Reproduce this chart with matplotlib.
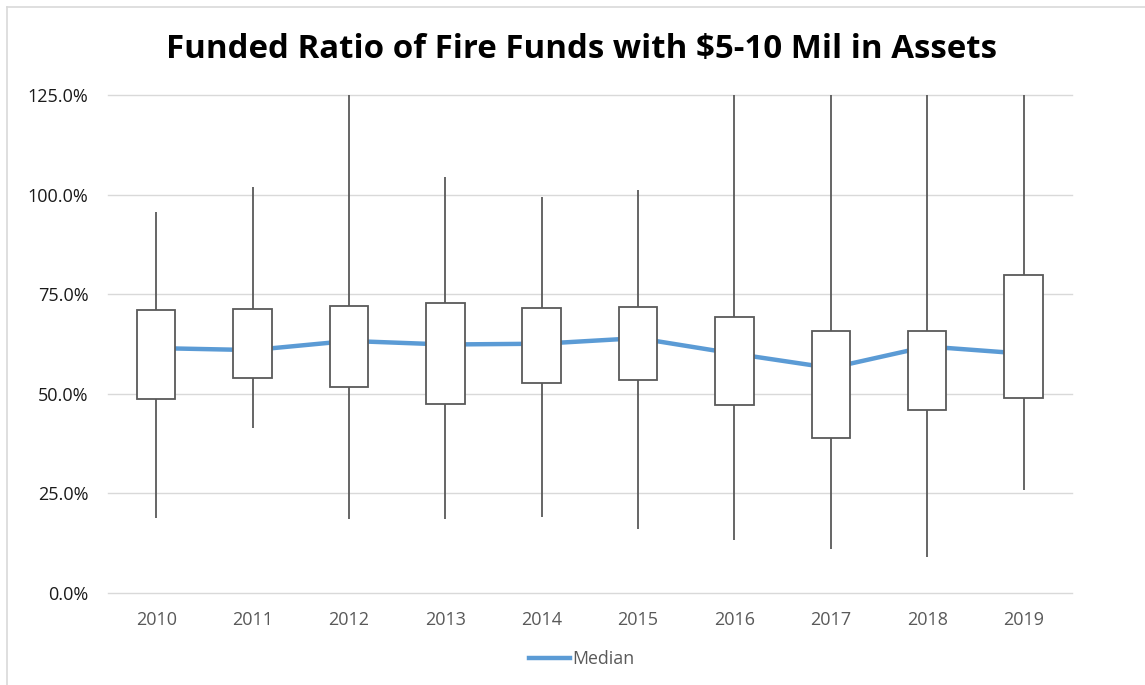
import numpy as np
import matplotlib.pyplot as plt
from matplotlib.lines import Line2D

years = ['2010', '2011', '2012', '2013', '2014', '2015', '2016', '2017', '2018', '2019']
# funded ratio in percent; whisker tops above 125 run off the top of the plot
whisker_hi = [95.6, 101.9, 140.0, 104.4, 99.4, 101.2, 140.0, 140.0, 140.0, 140.0]
box_hi = [71.0, 71.3, 72.0, 72.8, 71.5, 71.8, 69.2, 65.9, 65.9, 79.9]
median = [61.5, 61.0, 63.3, 62.4, 62.6, 64.0, 60.1, 56.5, 61.9, 60.1]
box_lo = [48.7, 54.0, 51.7, 47.4, 52.7, 53.5, 47.1, 39.0, 45.9, 48.9]
whisker_lo = [18.8, 41.4, 18.6, 18.6, 19.1, 16.1, 13.3, 11.0, 9.0, 25.9]

plt.rcParams['font.family'] = ['Open Sans', 'DejaVu Sans']

fig = plt.figure(figsize=(11.45, 6.85), dpi=100)
ax = fig.add_axes([0.0943, 0.1343, 0.8417, 0.7267])

x = np.arange(len(years))
edge = '#595959'

# whiskers behind, median line, then boxes on top
ax.vlines(x, whisker_lo, whisker_hi, color=edge, lw=1.3, zorder=2)
ax.plot(x, median, color='#5B9BD5', lw=3.2, zorder=3, solid_capstyle='butt')
ax.bar(x, np.array(box_hi) - np.array(box_lo), bottom=box_lo, width=0.4,
       facecolor='white', edgecolor=edge, linewidth=1.3, zorder=4)

ax.set_xlim(-0.5, 9.5)
ax.set_ylim(0, 125)
ax.set_yticks(np.arange(0, 126, 25))
ax.set_yticklabels([f'{v:.1f}%' for v in np.arange(0, 126, 25)])
ax.set_xticks(x)
ax.set_xticklabels(years)
ax.grid(axis='y', color='#d9d9d9', lw=1.0, zorder=0)
for gl in ax.get_ygridlines():
    gl.set_clip_on(False)
ax.set_axisbelow(True)
for s in ax.spines.values():
    s.set_visible(False)
ax.tick_params(axis='both', length=0, labelsize=13)
ax.tick_params(axis='y', pad=14, labelcolor='#1a1a1a')
ax.tick_params(axis='x', pad=13, labelcolor='#595959')

fig.text(0.508, 0.928, 'Funded Ratio of Fire Funds with $5-10 Mil in Assets',
         ha='center', va='center', fontsize=23.8, fontweight='bold')

handle = Line2D([], [], color='#5B9BD5', lw=3.2)
fig.legend([handle], ['Median'], loc='center', bbox_to_anchor=(0.508, 0.038),
           frameon=False, fontsize=12.8, handlelength=2.3, handletextpad=0.1,
           labelcolor='#595959')

# thin chart-area border
fig.add_artist(Line2D([7 / 1145, 1], [1 - 7 / 685, 1 - 7 / 685],
                      transform=fig.transFigure, color='#d9d9d9', lw=1.2))
fig.add_artist(Line2D([7 / 1145, 7 / 1145], [0, 1 - 7 / 685],
                      transform=fig.transFigure, color='#d9d9d9', lw=1.2))

fig.savefig('out.png', dpi=100)
